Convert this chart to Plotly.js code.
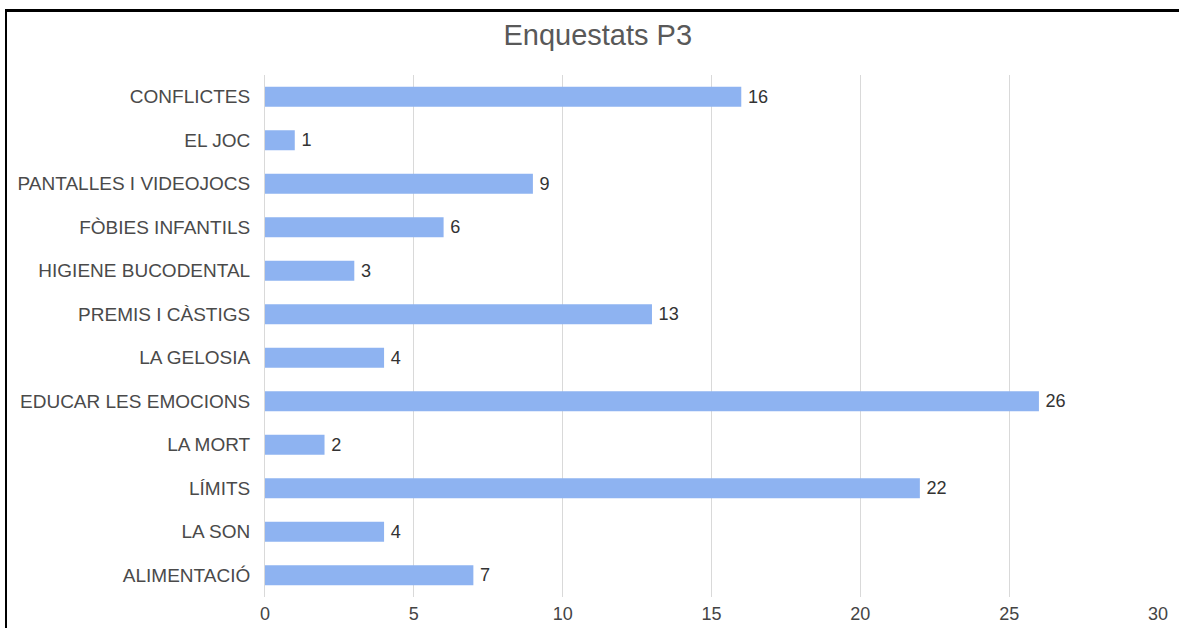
<!DOCTYPE html>
<html>
<head>
<meta charset="utf-8">
<script src="https://cdn.plot.ly/plotly-3.0.1.min.js"></script>
<style>
  html, body { margin: 0; padding: 0; background: #fff; }
  #chart { width: 1179px; height: 628px; position: absolute; left: 0; top: 0; }
  #frame { position: absolute; left: 5px; top: 9px; width: 1200px; height: 700px;
           border-top: 3px solid #000; border-left: 2px solid #000; pointer-events: none; }
</style>
</head>
<body>
<div id="chart"></div>
<div id="frame"></div>
<script>
const categories = ["CONFLICTES", "EL JOC", "PANTALLES I VIDEOJOCS", "FÒBIES INFANTILS",
  "HIGIENE BUCODENTAL", "PREMIS I CÀSTIGS", "LA GELOSIA", "EDUCAR LES EMOCIONS",
  "LA MORT", "LÍMITS", "LA SON", "ALIMENTACIÓ"];
const values = [16, 1, 9, 6, 3, 13, 4, 26, 2, 22, 4, 7];
const tickValues = [0, 5, 10, 15, 20, 25, 30];

const FONT = 'Liberation Sans, Arial, Helvetica, sans-serif';

const trace = {
  type: 'bar',
  orientation: 'h',
  y: categories,
  x: values,
  text: values.map(v => '\u2009' + v),
  textposition: 'outside',
  cliponaxis: false,
  textfont: { family: FONT, size: 19, color: '#333333' },
  marker: { color: '#8eb3f1', line: { width: 0 } },
  width: 0.46,
  hoverinfo: 'skip'
};

const layout = {
  width: 1179, height: 628,
  margin: { l: 265, r: 21, t: 75, b: 31 },
  paper_bgcolor: 'rgba(0,0,0,0)',
  plot_bgcolor: '#fff',
  showlegend: false,
  title: {
    text: 'Enquestats P3',
    x: 0.507, xref: 'container', xanchor: 'center',
    y: 0.945, yref: 'container', yanchor: 'middle',
    font: { family: FONT, size: 29, color: '#595959' }
  },
  xaxis: {
    range: [0, 30],
    tickvals: tickValues,
    ticktext: tickValues.map(String),
    showgrid: true, gridcolor: '#d9d9d9', gridwidth: 1,
    zeroline: false, showline: false, ticks: '',
    tickfont: { family: FONT, size: 18, color: '#444' },
    ticklabelstandoff: 4,
    fixedrange: true
  },
  yaxis: {
    categoryorder: 'array',
    categoryarray: categories.slice().reverse(),
    autorange: false,
    range: [-0.5, categories.length - 0.5],
    showgrid: false, zeroline: false, showline: true, linecolor: '#d9d9d9', linewidth: 1,
    ticks: '',
    ticklabelstandoff: 10,
    tickfont: { family: FONT, size: 19, color: '#4a4a4a' },
    fixedrange: true
  },
  bargap: 0.54
};

Plotly.newPlot('chart', [trace], layout, { displayModeBar: false, staticPlot: true });
</script>
</body>
</html>
